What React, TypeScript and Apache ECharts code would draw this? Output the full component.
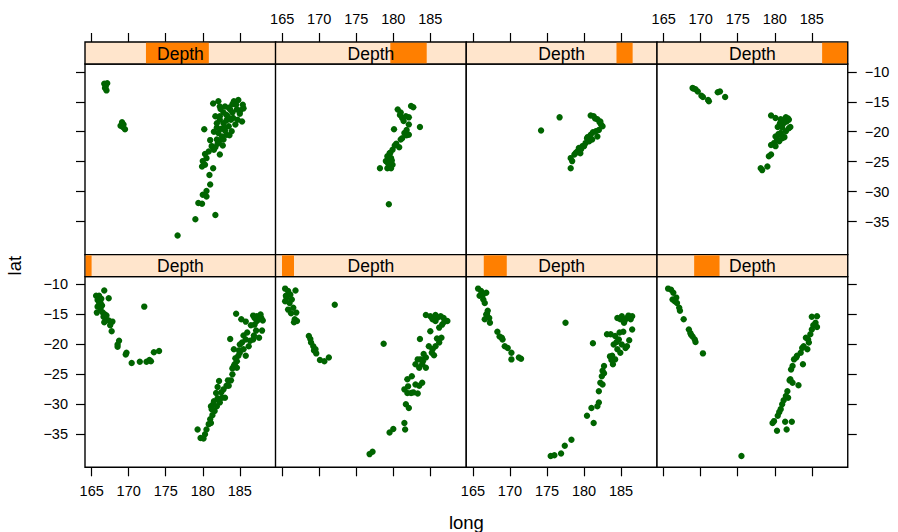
import React, { useEffect, useRef } from "react";
import * as echarts from "echarts";

// ---- data ----
const longTicks = [165, 170, 175, 180, 185];
const latTicks = [-35, -30, -25, -20, -15, -10];
const longRange = [164.1, 189.85];
const latRange = [-40.5, -8.7];
const depthRange = [39.5, 680.5];
const depthLow = [39.5, 59, 96, 162, 242, 423, 542, 592];
const depthHigh = [64, 104, 178, 252, 458, 550, 601, 680.5];
const stripLabel = "Depth";
const xTitle = "long";
const yTitle = "lat";

// depth interval 1 (shallowest)
const p1 = [
  [165.6, -11.9], [166.0, -11.9], [166.7, -11.0], [167.3, -12.3], [165.8, -12.6], [166.2, -13.1], [166.4, -13.5],
  [165.8, -13.7], [166.2, -14.1], [165.7, -14.7], [166.5, -14.7], [166.6, -15.4], [166.9, -15.8], [167.3, -16.0],
  [167.8, -16.2], [166.7, -16.3], [167.5, -16.8], [167.7, -17.8], [168.7, -19.4], [168.5, -20.0], [168.5, -20.4],
  [169.7, -21.4], [169.6, -21.7], [170.4, -23.1], [171.5, -22.9], [172.4, -22.9], [172.8, -22.6], [173.0, -22.8],
  [173.4, -21.3], [174.1, -21.1], [172.1, -13.7], [166.3, -12.4], [167.0, -15.2], [166.0, -13.0], [166.8, -15.0],
  [184.5, -14.9], [185.2, -15.8], [185.8, -16.2], [186.8, -15.2], [187.3, -15.3], [187.9, -15.6], [188.1, -16.0],
  [187.3, -16.1], [187.0, -16.7], [187.6, -15.8], [187.2, -17.7], [188.0, -17.7], [187.6, -18.9], [186.8, -19.2],
  [186.4, -19.4], [185.8, -19.2], [185.3, -19.7], [186.2, -20.3], [185.5, -20.8], [185.0, -21.4], [185.8, -21.9],
  [184.8, -21.9], [184.6, -22.8], [184.2, -23.6], [184.6, -23.9], [184.3, -23.3], [183.7, -19.1], [184.2, -20.8],
  [184.0, -25.0], [183.8, -26.0], [183.2, -26.9], [182.2, -26.1], [182.0, -27.1], [182.8, -27.5], [183.5, -26.9],
  [182.6, -28.9], [183.0, -28.9], [181.8, -28.1], [182.3, -29.7], [181.4, -30.0], [181.1, -30.3], [181.9, -30.3],
  [181.6, -31.1], [181.2, -30.8], [181.0, -32.5], [181.1, -33.1], [180.8, -33.3], [180.5, -34.2], [179.3, -34.2],
  [180.3, -35.0], [179.7, -35.6], [180.1, -35.7], [187.5, -15.5], [186.5, -16.8], [185.5, -18.5], [186.0, -18.0],
  [184.9, -21.0], [184.0, -24.0], [182.5, -28.0], [181.5, -29.5], [187.8, -15.0], [187.0, -15.6], [186.9, -18.5],
  [185.0, -20.0], [184.4, -22.3], [183.4, -26.0], [182.0, -29.0], [181.3, -31.8],
];

const p2 = [
  [165.4, -10.7], [165.8, -11.1], [166.8, -11.0], [165.5, -11.9], [166.1, -11.7], [165.4, -12.8], [166.0, -13.1],
  [166.3, -12.5], [165.8, -14.2], [166.5, -13.9], [166.9, -14.7], [166.7, -15.8], [167.0, -16.1], [166.6, -16.3],
  [168.6, -18.6], [168.9, -19.7], [169.2, -20.3], [169.5, -20.8], [169.6, -21.5], [170.1, -22.6], [170.7, -22.8],
  [171.3, -22.2], [172.1, -13.4], [178.7, -19.9], [165.6, -12.2], [166.2, -14.8], [168.8, -19.1], [169.3, -21.0],
  [184.4, -15.1], [185.0, -15.3], [185.7, -15.1], [186.4, -15.3], [186.8, -15.6], [187.3, -16.1], [186.6, -16.7],
  [186.2, -17.2], [185.7, -16.1], [185.3, -15.8], [185.0, -17.8], [183.6, -19.1], [186.5, -18.9], [186.2, -19.7],
  [185.7, -20.3], [185.3, -20.8], [184.8, -20.3], [185.2, -21.4], [184.4, -22.2], [183.7, -22.5], [183.3, -22.5],
  [183.0, -23.3], [183.9, -23.3], [184.4, -23.9], [183.5, -23.9], [182.5, -25.3], [181.9, -25.8], [183.9, -26.4],
  [183.5, -26.9], [183.0, -26.7], [181.5, -27.5], [181.9, -28.1], [182.4, -28.1], [183.3, -28.2], [181.7, -30.0],
  [182.1, -30.6], [181.5, -33.1], [181.6, -34.2], [180.0, -34.1], [179.5, -34.7], [177.2, -37.9], [176.8, -38.3],
  [186.0, -15.5], [185.5, -21.8], [184.0, -22.8], [182.0, -27.0], [186.9, -16.2], [185.9, -19.0], [184.1, -21.6],
  [182.7, -28.0],
];

const p3 = [
  [165.7, -10.7], [166.1, -11.1], [166.8, -11.4], [165.9, -11.9], [166.4, -12.5], [166.6, -13.1], [167.0, -14.4],
  [166.8, -15.0], [166.6, -15.8], [167.2, -15.6], [167.3, -16.4], [168.3, -17.9], [168.6, -18.7], [169.0, -19.2],
  [169.3, -20.3], [169.7, -20.6], [170.2, -21.4], [170.2, -22.5], [171.2, -22.2], [171.5, -22.4], [166.3, -11.8],
  [166.9, -14.9], [168.9, -18.9],
  [177.5, -16.4], [181.2, -19.8],
  [184.5, -15.6], [185.1, -15.3], [185.8, -15.6], [186.5, -15.3], [186.3, -15.8], [185.4, -16.4], [186.5, -17.5],
  [185.3, -17.9], [184.2, -18.6], [184.7, -19.2], [183.1, -18.3], [183.6, -18.3], [186.1, -19.3], [185.1, -20.0],
  [185.6, -20.6], [185.8, -20.3], [184.0, -20.0], [184.5, -20.8], [184.9, -21.4], [183.8, -21.9], [184.2, -22.5],
  [183.9, -23.3], [182.7, -23.6], [182.5, -24.4], [182.4, -25.3], [182.2, -26.4], [182.5, -26.7], [182.0, -27.8],
  [182.0, -29.7], [181.8, -30.3], [181.0, -30.6], [180.4, -31.9], [181.3, -33.1], [178.3, -35.9], [177.4, -36.9],
  [176.9, -38.2], [175.5, -38.6], [176.0, -38.5], [185.5, -16.0], [184.8, -18.0], [183.5, -22.0], [186.0, -15.2],
  [184.9, -15.8], [184.4, -19.6], [183.7, -22.6], [182.7, -24.8],
];

const p4 = [
  [165.6, -10.7], [166.0, -10.9], [166.3, -11.4], [166.2, -12.5], [166.7, -12.2], [166.8, -13.1], [167.1, -13.9],
  [167.2, -14.4], [167.7, -15.8], [168.4, -17.5], [168.6, -18.1], [168.9, -18.7], [169.2, -19.2], [169.3, -19.6],
  [170.3, -21.5], [175.5, -38.6], [166.5, -12.8], [168.7, -18.4],
  [185.0, -15.4], [185.7, -15.3], [185.5, -16.4], [185.7, -17.1], [185.0, -17.5], [184.8, -18.3], [184.2, -18.9],
  [184.6, -19.7], [183.9, -20.3], [184.4, -20.8], [183.5, -21.4], [183.0, -21.9], [182.6, -22.5], [182.4, -23.6],
  [183.8, -23.3], [182.1, -25.8], [182.4, -26.4], [183.2, -26.8], [181.7, -27.8], [181.5, -28.6], [181.8, -28.9],
  [181.0, -30.0], [180.8, -30.8], [180.4, -31.9], [179.9, -32.8], [179.7, -33.1], [181.4, -32.9], [182.3, -32.9],
  [180.3, -34.4], [181.6, -34.2], [185.2, -16.8], [184.5, -19.2], [183.7, -20.6], [182.9, -22.2], [182.2, -24.2],
  [182.0, -26.0], [181.2, -29.3], [180.6, -31.3],
];

const p5 = [
  [166.7, -12.0], [167.1, -11.9], [166.9, -12.4], [167.0, -13.1], [166.8, -12.7],
  [169.1, -18.4], [169.3, -18.8], [169.5, -19.6], [169.2, -19.2], [168.9, -19.0],
  [181.4, -15.3], [182.1, -14.9], [183.0, -15.8], [184.2, -14.9], [184.8, -14.7], [185.4, -15.5], [185.5, -16.1],
  [184.6, -16.3], [183.7, -16.3], [182.3, -15.8], [181.7, -17.4], [182.3, -17.4], [183.2, -17.2], [184.1, -17.7],
  [185.3, -18.3], [182.8, -18.6], [181.9, -18.6], [183.5, -19.1], [184.4, -18.8], [183.9, -19.9], [183.2, -20.5],
  [182.6, -20.8], [181.9, -21.3], [182.8, -21.3], [182.1, -20.2], [180.2, -19.6], [181.2, -22.4], [180.8, -23.3],
  [182.3, -23.8], [180.5, -24.4], [180.0, -24.9], [180.3, -25.5], [181.4, -26.1], [179.9, -25.8], [180.9, -27.2],
  [181.0, -28.8], [180.5, -29.9], [180.0, -30.5], [180.5, -30.8], [179.4, -31.9], [179.9, -32.0], [179.0, -34.6],
  [181.7, -33.9], [176.6, -37.3], [183.5, -16.0], [184.0, -16.8], [182.8, -16.8], [183.8, -18.0], [182.5, -19.5],
  [181.5, -20.0], [183.0, -19.8], [184.5, -15.5], [185.0, -17.0], [182.0, -22.0], [181.5, -23.0], [180.3, -23.7],
  [182.4, -16.2], [183.2, -18.1], [184.7, -18.0], [182.3, -18.0], [182.9, -19.3], [183.6, -20.6], [182.2, -21.6],
  [181.7, -22.6], [184.0, -15.4], [185.1, -16.4], [183.4, -17.5], [181.9, -19.3], [182.7, -22.3], [181.0, -21.4],
];

const p6 = [
  [180.6, -16.3], [180.9, -17.2], [181.2, -17.7], [181.7, -17.4], [182.1, -17.6], [182.4, -15.7], [182.7, -15.9],
  [183.6, -19.2], [180.1, -19.6], [182.1, -18.8], [181.8, -19.7], [181.5, -20.2], [182.1, -20.5], [181.2, -21.1],
  [181.0, -21.3], [180.4, -22.0], [180.8, -22.6], [179.9, -23.0], [179.5, -23.6], [179.2, -24.1], [179.7, -24.4],
  [179.0, -24.9], [179.5, -25.5], [179.9, -25.5], [179.2, -26.1], [178.2, -26.1], [179.7, -26.1], [179.4, -32.1],
  [179.6, -23.5], [179.4, -24.6], [181.0, -16.8], [181.8, -20.6], [180.2, -22.3], [179.8, -24.8], [179.3, -25.3],
  [181.4, -18.2],
];

const p7 = [
  [174.2, -19.8], [176.7, -17.6], [180.9, -17.3], [181.3, -17.4], [181.8, -17.9], [182.2, -18.3], [182.5, -19.1],
  [182.0, -19.7], [181.6, -19.9], [181.8, -20.8], [181.1, -21.3], [180.9, -20.5], [180.4, -21.1], [180.2, -21.9],
  [179.8, -22.4], [179.3, -22.7], [179.1, -23.3], [179.5, -23.6], [178.7, -23.8], [178.2, -24.4], [178.4, -24.9],
  [178.2, -26.1], [180.0, -22.4], [180.7, -21.6], [181.5, -17.8], [182.3, -18.8], [181.2, -20.1], [179.6, -22.9],
  [180.5, -20.9], [178.9, -23.5], [182.1, -18.4],
];

const p8 = [
  [168.9, -12.7], [169.3, -12.9], [169.6, -13.3], [170.1, -14.0], [170.3, -14.2], [171.1, -14.9], [171.0, -14.7],
  [172.3, -13.4], [172.6, -13.3], [173.3, -14.2], [169.0, -12.8],
  [179.5, -17.3], [180.1, -17.7], [180.8, -17.9], [181.5, -17.6], [181.9, -18.0], [180.7, -18.6], [181.2, -18.6],
  [180.4, -19.2], [181.9, -19.4], [182.1, -19.2], [181.5, -19.9], [180.8, -20.2], [180.1, -20.8], [181.0, -21.1],
  [180.6, -21.6], [179.9, -21.9], [179.5, -22.2], [180.1, -22.4], [179.5, -23.8], [179.2, -24.1], [179.0, -25.8],
  [178.1, -26.1], [178.3, -26.4], [181.2, -18.0], [180.9, -20.6], [181.6, -18.3], [181.0, -19.3], [180.5, -20.4],
  [181.3, -20.9], [180.3, -21.3], [181.8, -17.8],
];

const panels = [p1, p2, p3, p4, p5, p6, p7, p8];

// ---- layout ----
const FONT = '"Liberation Sans", Arial, Helvetica, sans-serif';
const COL_LEFT = [85, 275.5, 466.25, 657];
const PW = 190.75;
const STRIP_TOP = [42, 254.65]; // row 0 = top row, row 1 = bottom row
const STRIP_H = 22;
const PH = 190.65;
const TICK = 9;
const TICK_FS = 14.5;
const BORDER_W = 1.4;

export default function App() {
  const ref = useRef<HTMLDivElement>(null);

  useEffect(() => {
    const chart = echarts.init(ref.current!, null, { renderer: "svg" });
    const grid: any[] = [];
    const xAxis: any[] = [];
    const yAxis: any[] = [];
    const series: any[] = [];
    const graphic: any[] = [];
    const minus = (v: number) => String(v).replace("-", "\u2212");

    // panel grids 0..7
    for (let i = 0; i < 8; i++) {
      const row = i < 4 ? 1 : 0;
      const col = i % 4;
      grid.push({
        left: COL_LEFT[col],
        top: STRIP_TOP[row] + STRIP_H,
        width: PW,
        height: PH,
        show: true,
        borderColor: "#000",
        borderWidth: BORDER_W,
        backgroundColor: "#fff",
      });
      const xLabels = row === 1 ? col % 2 === 0 : col % 2 === 1;
      xAxis.push({
        gridIndex: i,
        type: "value",
        min: longRange[0],
        max: longRange[1],
        position: row === 1 ? "bottom" : "top",
        offset: row === 1 ? 0 : STRIP_H,
        axisLine: { show: false },
        splitLine: { show: false },
        axisTick: { show: true, inside: false, length: TICK, lineStyle: { color: "#000", width: 1.2 }, customValues: longTicks },
        axisLabel: {
          show: xLabels,
          customValues: longTicks,
          color: "#000",
          fontSize: TICK_FS,
          fontFamily: FONT,
          margin: 16,
        },
      });
      const yShow = col === 0 || col === 3;
      const yLabels = (col === 0 && row === 1) || (col === 3 && row === 0);
      yAxis.push({
        gridIndex: i,
        type: "value",
        min: latRange[0],
        max: latRange[1],
        position: col === 3 ? "right" : "left",
        show: yShow,
        axisLine: { show: false },
        splitLine: { show: false },
        axisTick: { show: true, inside: false, length: TICK, lineStyle: { color: "#000", width: 1.2 }, customValues: latTicks },
        axisLabel: {
          show: yLabels,
          customValues: latTicks,
          color: "#000",
          fontSize: TICK_FS,
          fontFamily: FONT,
          margin: 17,
          formatter: minus,
        },
      });
      series.push({
        type: "scatter",
        xAxisIndex: i,
        yAxisIndex: i,
        data: panels[i],
        symbol: "circle",
        symbolSize: 6.4,
        itemStyle: { color: "#006400", opacity: 1 },
        silent: true,
      });
    }

    // strip grids 8..15
    for (let i = 0; i < 8; i++) {
      const row = i < 4 ? 1 : 0;
      const col = i % 4;
      const gi = 8 + i;
      grid.push({
        left: COL_LEFT[col],
        top: STRIP_TOP[row],
        width: PW,
        height: STRIP_H,
        show: true,
        borderColor: "#000",
        borderWidth: BORDER_W,
        backgroundColor: "#FFE5CC",
      });
      xAxis.push({ gridIndex: gi, type: "value", min: depthRange[0], max: depthRange[1], show: false });
      yAxis.push({ gridIndex: gi, type: "value", min: 0, max: 1, show: false });
      series.push({
        type: "custom",
        xAxisIndex: gi,
        yAxisIndex: gi,
        data: [[depthLow[i], depthHigh[i]]],
        silent: true,
        renderItem: (_p: any, api: any) => {
          const a = api.coord([api.value(0), 1]);
          const b = api.coord([api.value(1), 0]);
          return {
            type: "rect",
            shape: { x: a[0] + 0.7, y: a[1] + 0.7, width: b[0] - a[0] - 1.4, height: b[1] - a[1] - 1.4 },
            style: { fill: "#FF7F00" },
          };
        },
      });
      graphic.push({
        type: "text",
        x: COL_LEFT[col] + PW / 2,
        y: STRIP_TOP[row] + STRIP_H / 2 + 0.5,
        z: 100,
        style: {
          text: stripLabel,
          fontSize: 17.5,
          fontFamily: FONT,
          fill: "#000",
          textAlign: "center",
          textVerticalAlign: "middle",
        },
      });
    }

    graphic.push({
      type: "text",
      x: (COL_LEFT[0] + COL_LEFT[3] + PW) / 2,
      y: 522,
      z: 100,
      style: { text: xTitle, fontSize: 18.5, fontFamily: FONT, fill: "#000", textAlign: "center", textVerticalAlign: "middle" },
    });
    graphic.push({
      type: "text",
      x: 14,
      y: (STRIP_TOP[0] + STRIP_H + STRIP_TOP[1] + STRIP_H + PH) / 2,
      rotation: Math.PI / 2,
      z: 100,
      style: { text: yTitle, fontSize: 18.5, fontFamily: FONT, fill: "#000", textAlign: "center", textVerticalAlign: "middle" },
    });

    chart.setOption({
      animation: false,
      backgroundColor: "#fff",
      grid,
      xAxis,
      yAxis,
      series,
      graphic,
    });
    return () => chart.dispose();
  }, []);

  return (
    <div
      ref={ref}
      style={{ position: "fixed", left: 0, top: 0, width: 898, height: 532, background: "#fff" }}
    />
  );
}
